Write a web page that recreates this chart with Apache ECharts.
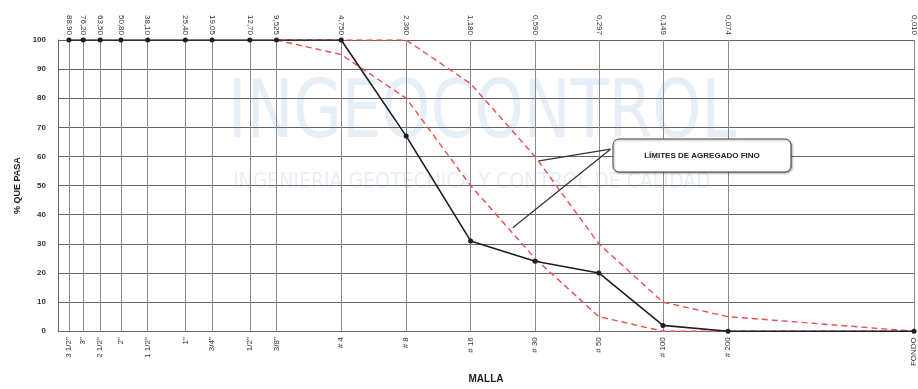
<!DOCTYPE html>
<html>
<head>
<meta charset="utf-8">
<title>Curva granulométrica</title>
<script src="https://cdn.jsdelivr.net/npm/echarts@6/dist/echarts.min.js"></script>
<style>
  html, body { margin: 0; padding: 0; background: #ffffff; }
  #chart { width: 918px; height: 389px; }
</style>
</head>
<body>
<div id="chart"></div>
<script>
// Sieve openings (mm) and their designations
const sieveSizes = [88.9, 76.2, 63.5, 50.8, 38.1, 25.4, 19.05, 12.7, 9.525, 4.75, 2.36, 1.18, 0.59, 0.297, 0.149, 0.074, 0.01];
const sizeLabels = ['88,90', '76,20', '63,50', '50,80', '38,10', '25,40', '19,05', '12,70', '9,525', '4,750', '2,360', '1,180', '0,590', '0,297', '0,149', '0,074', '0,010'];
const meshLabels = ['3 1/2"', '3"', '2 1/2"', '2"', '1 1/2"', '1"', '3/4"', '1/2"', '3/8"', '# 4', '# 8', '# 16', '# 30', '# 50', '# 100', '# 200', 'FONDO'];

// Percent passing of the sample, one value per sieve
const samplePassing = [100, 100, 100, 100, 100, 100, 100, 100, 100, 100, 67, 31, 24, 20, 2, 0, 0];

// Fine aggregate gradation limits (from 3/8" down)
const limitSizes = [9.525, 4.75, 2.36, 1.18, 0.59, 0.297, 0.149, 0.074, 0.01];
const upperLimit = [100, 100, 100, 85, 60, 30, 10, 5, 0];
const lowerLimit = [100, 95, 80, 50, 25, 5, 0, 0, 0];

const yTicks = [0, 10, 20, 30, 40, 50, 60, 70, 80, 90, 100];

// Callout arrows, in data units [size mm, % passing]
const calloutStart = [0.262, 62.5];
const calloutUpperTip = [0.565, 58.5];
const calloutLowerTip = [0.75, 35.5];

const pairs = (xs, ys) => xs.map((x, i) => [x, ys[i]]);

function labelFor(list) {
  return function (value) {
    let best = 0, bestD = Infinity;
    for (let i = 0; i < sieveSizes.length; i++) {
      const d = Math.abs(Math.log(value) - Math.log(sieveSizes[i]));
      if (d < bestD) { bestD = d; best = i; }
    }
    return list[best];
  };
}

const FONT = 'Liberation Sans, Arial, sans-serif';
const NARROW = '"Liberation Sans Narrow", "DejaVu Sans Condensed", sans-serif';
const chart = echarts.init(document.getElementById('chart'), null, { renderer: 'canvas' });

const baseX = {
  type: 'log',
  logBase: 10,
  min: 0.01,
  max: 100,
  inverse: true
};

chart.setOption({
  animation: false,
  backgroundColor: '#ffffff',
  grid: { left: 58, right: 2, top: 40, bottom: 48, containLabel: false },
  graphic: [
    {
      type: 'text', z: -10, x: 228, y: 76, scaleX: 0.87, silent: true,
      style: { text: 'INGEOCONTROL', font: '400 80px ' + NARROW, fill: 'rgba(150,185,220,0.24)' }
    },
    {
      type: 'text', z: -10, left: 233, top: 172, silent: true,
      style: { text: 'INGENIERIA GEOTECNICA Y CONTROL DE CALIDAD', font: '400 21px ' + NARROW, fill: 'rgba(150,185,220,0.24)' }
    },
    {
      type: 'group', z: 100,
      children: [
        {
          type: 'rect', z: 100,
          shape: { x: 613, y: 139, width: 178, height: 33, r: 6 },
          style: { fill: '#ffffff', stroke: '#444444', lineWidth: 1, shadowBlur: 2, shadowOffsetX: 1, shadowOffsetY: 1, shadowColor: 'rgba(0,0,0,0.35)' }
        },
        {
          type: 'text', z: 101,
          x: 702, y: 155.5,
          style: { text: 'LÍMITES DE AGREGADO FINO', font: 'bold 8px ' + FONT, fill: '#222222', align: 'center', verticalAlign: 'middle' }
        }
      ]
    }
  ],
  xAxis: [
    Object.assign({}, baseX, {
      position: 'bottom',
      name: 'MALLA',
      nameLocation: 'middle',
      nameGap: 40,
      nameTextStyle: { fontFamily: FONT, fontWeight: 'bold', fontSize: 10, color: '#222' },
      axisLine: { show: true, lineStyle: { color: '#666', width: 1 } },
      axisTick: { show: false, customValues: sieveSizes },
      axisLabel: {
        customValues: sieveSizes,
        rotate: 90,
        margin: 6,
        fontFamily: FONT, fontSize: 8, color: '#333',
        formatter: labelFor(meshLabels)
      },
      splitLine: { show: true, lineStyle: { color: '#8a8a8a', width: 1 } },
      minorSplitLine: { show: false }
    }),
    Object.assign({}, baseX, {
      position: 'top',
      axisLine: { show: false },
      axisTick: { show: false, customValues: sieveSizes },
      axisLabel: {
        customValues: sieveSizes,
        rotate: 90,
        margin: 5,
        fontFamily: FONT, fontSize: 8, color: '#333',
        formatter: labelFor(sizeLabels)
      },
      splitLine: { show: false }
    })
  ],
  yAxis: {
    type: 'value',
    min: 0, max: 100, interval: 10,
    name: '% QUE PASA',
    nameLocation: 'middle',
    nameRotate: 90,
    nameGap: 34,
    nameTextStyle: { fontFamily: FONT, fontWeight: 'bold', fontSize: 9, color: '#222' },
    axisLine: { show: true, lineStyle: { color: '#666', width: 1 } },
    axisTick: { show: false },
    axisLabel: {
      margin: 12, fontFamily: FONT, fontSize: 8, fontWeight: 'bold', color: '#333',
      formatter: v => (yTicks.indexOf(v) >= 0 ? String(v) : '')
    },
    splitLine: { show: true, lineStyle: { color: '#666666', width: 1 } }
  },
  series: [
    {
      name: 'Límite superior',
      type: 'line',
      data: pairs(limitSizes, upperLimit),
      symbol: 'none',
      lineStyle: { color: '#e8504f', width: 1.4, type: [6, 4] },
      z: 3,
      markLine: {
        silent: true,
        symbol: ['none', 'arrow'],
        symbolSize: [0, 9],
        label: { show: false },
        lineStyle: { color: '#333333', type: 'solid', width: 1.2 },
        data: [
          [{ coord: calloutStart }, { coord: calloutUpperTip }],
          [{ coord: calloutStart }, { coord: calloutLowerTip }]
        ]
      }
    },
    {
      name: 'Límite inferior',
      type: 'line',
      data: pairs(limitSizes, lowerLimit),
      symbol: 'none',
      lineStyle: { color: '#e8504f', width: 1.4, type: [6, 4] },
      z: 3
    },
    {
      name: 'Muestra',
      type: 'line',
      data: pairs(sieveSizes, samplePassing),
      symbol: 'circle',
      symbolSize: 5,
      itemStyle: { color: '#1e1e1e' },
      lineStyle: { color: '#1e1e1e', width: 1.6 },
      z: 4
    }
  ]
});
</script>
</body>
</html>
